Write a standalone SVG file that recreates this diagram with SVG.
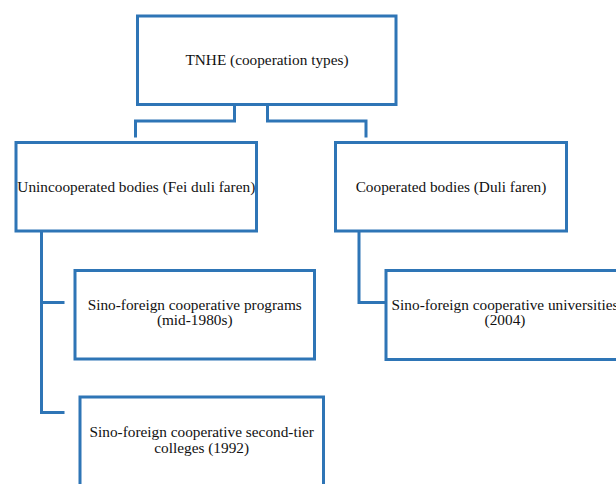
<svg xmlns="http://www.w3.org/2000/svg" width="616" height="484" viewBox="0 0 616 484">
<style>
.box{fill:#ffffff;stroke:#2E75B6;stroke-width:3}
.con{fill:none;stroke:#2E75B6;stroke-width:3;stroke-linejoin:miter}
.t{font-family:"Liberation Serif","Times New Roman",serif;font-size:15.3px;fill:#111111;text-anchor:middle}
</style>
<rect width="616" height="484" fill="#ffffff"/>
<g id="connectors">
<polyline class="con" points="234.5,104.5 234.5,121 135.5,121 135.5,137.5"/>
<polyline class="con" points="267.5,104.5 267.5,121 366,121 366,137.5"/>
<polyline class="con" points="41.5,231 41.5,412.5 64.5,412.5"/>
<line class="con" x1="41.5" y1="302.5" x2="64.5" y2="302.5"/>
<polyline class="con" points="359,231 359,302.5 385.5,302.5"/>
</g>
<g id="root">
<rect class="box" x="137.5" y="16" width="258.5" height="88.5"/>
<text class="t" x="267" y="65">TNHE (cooperation types)</text>
</g>
<g id="uncooperated">
<rect class="box" x="16" y="142.5" width="240.5" height="88.5"/>
<text class="t" x="136.3" y="191.5">Unincooperated bodies (Fei duli faren)</text>
</g>
<g id="cooperated">
<rect class="box" x="335.5" y="142.5" width="231" height="88.5"/>
<text class="t" x="451" y="191.5">Cooperated bodies (Duli faren)</text>
</g>
<g id="programs">
<rect class="box" x="75" y="270.5" width="239.5" height="88.5"/>
<text class="t" x="194.7" y="309.5">Sino-foreign cooperative programs</text>
<text class="t" x="194.7" y="325">(mid-1980s)</text>
</g>
<g id="colleges">
<rect class="box" x="80" y="397" width="243.5" height="100"/>
<text class="t" x="201.7" y="437">Sino-foreign cooperative second-tier</text>
<text class="t" x="201.7" y="452.5">colleges (1992)</text>
</g>
<g id="universities">
<rect class="box" x="386" y="270.5" width="238" height="89"/>
<text class="t" x="505" y="309.5">Sino-foreign cooperative universities</text>
<text class="t" x="505" y="325">(2004)</text>
</g>
</svg>
